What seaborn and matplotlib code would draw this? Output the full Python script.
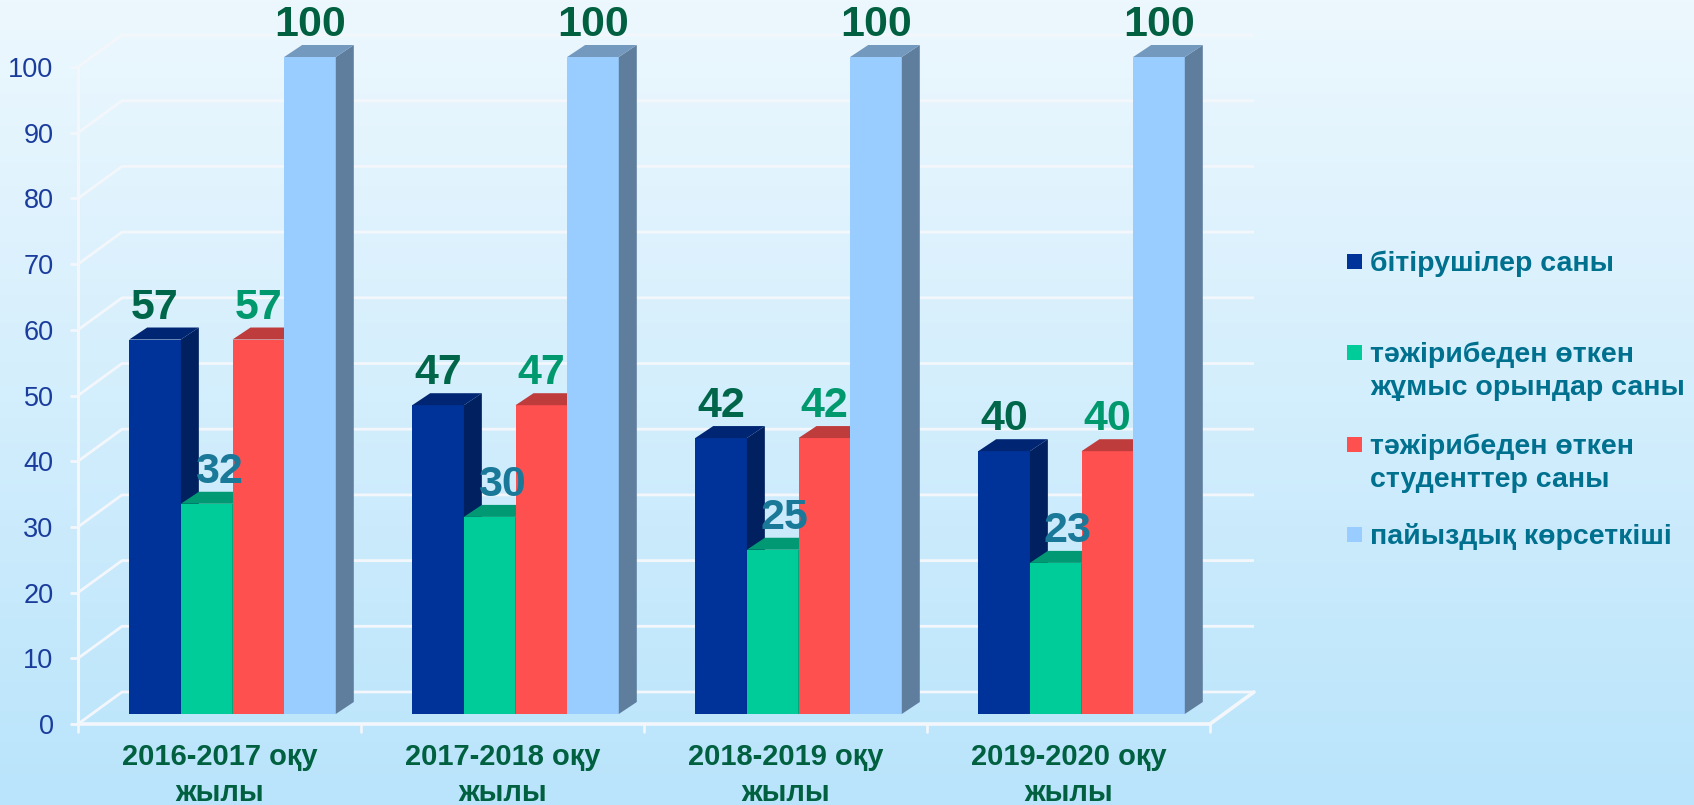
import numpy as np
import pandas as pd
import matplotlib
matplotlib.use("Agg")
import matplotlib.pyplot as plt
import matplotlib.colors as mcolors
from matplotlib.patches import Polygon, Rectangle
from matplotlib.transforms import offset_copy
import seaborn as sns

# ---- data --------------------------------------------------------------------
years = ["2016-2017 оқу\nжылы", "2017-2018 оқу\nжылы",
         "2018-2019 оқу\nжылы", "2019-2020 оқу\nжылы"]
series = ["бітірушілер саны",
          "тәжірибеден өткен\nжұмыс орындар саны",
          "тәжірибеден өткен\nстуденттер саны",
          "пайыздық көрсеткіші"]
graduates = [57, 47, 42, 40]
work_places = [32, 30, 25, 23]
students = [57, 47, 42, 40]
percent = [100, 100, 100, 100]

colors = ["#003399", "#00CC99", "#FF5050", "#99CCFF"]
label_colors = ["#00664A", "#1A7898", "#00996E", "#006040"]
label_dx = [0, 12, 0, 0]          # px shift of the value labels
TEXT_GREEN = "#006040"
LEGEND_TEXT = "#00708F"
TICK_BLUE = "#1A3C9C"
GRID = "#F3F7FB"

df = pd.DataFrame({
    "year": np.repeat(years, 4),
    "series": series * 4,
    "value": [v for row in zip(graduates, work_places, students, percent) for v in row],
})

# ---- figure ------------------------------------------------------------------
W, H, DPI = 1694, 805, 100
sns.set_theme(style="white")
plt.rcParams["font.family"] = ["Liberation Sans", "DejaVu Sans"]

fig = plt.figure(figsize=(W / DPI, H / DPI), dpi=DPI)

# vertical background gradient
bg = fig.add_axes([0, 0, 1, 1], zorder=-10)
grad = np.linspace(0, 1, 256).reshape(-1, 1)
bg.imshow(grad, aspect="auto", extent=[0, 1, 0, 1],
          cmap=mcolors.LinearSegmentedColormap.from_list("bg", ["#EDF8FE", "#B9E4FB"]))
bg.axis("off")

# axes = front plane of the bars (pixels of the reference)
x0, x1, y_bot, y_top = 91, 1223, 714, 57
ax = fig.add_axes([x0 / W, (H - y_bot) / H, (x1 - x0) / W, (y_bot - y_top) / H])
ax.set_facecolor("none")

sns.barplot(data=df, x="year", y="value", hue="series", order=years,
            hue_order=series, palette=colors, saturation=1, width=0.73,
            linewidth=0, legend=False, ax=ax)
ax.set_xlim(-0.5, 3.5)
ax.set_ylim(0, 100)
for s in ax.spines.values():
    s.set_visible(False)
ax.set_xlabel("")
ax.set_ylabel("")

FRONT = (-13, -10)   # axis / floor front edge, px
BACK = (31, 22)      # back wall, px
DEPTH = (18, 12)     # bar depth, px


def shift(x, y, d):
    px, py = ax.transData.transform((x, y))
    return ax.transData.inverted().transform((px + d[0], py + d[1]))


# back wall gridlines with diagonal on the side wall
gl = dict(color=GRID, lw=2.0, zorder=1, solid_capstyle="butt")
for v in range(0, 101, 10):
    a = shift(-0.5, v, FRONT)
    b = shift(-0.5, v, BACK)
    c = shift(3.5, v, BACK)
    ax.plot([a[0], b[0], c[0]], [a[1], b[1], c[1]], clip_on=False, **gl)
    t = shift(-0.5, v, (FRONT[0] - 8, FRONT[1]))
    ax.plot([t[0], a[0]], [t[1], a[1]], clip_on=False, **gl)

# front axis lines and floor edge
p = [shift(-0.5, 0, FRONT), shift(3.5, 0, FRONT), shift(3.5, 0, BACK)]
ax.plot([q[0] for q in p], [q[1] for q in p], color=GRID, lw=2.6, zorder=1.5, clip_on=False)
p = [shift(-0.5, 0, FRONT), shift(-0.5, 100, FRONT)]
ax.plot([q[0] for q in p], [q[1] for q in p], color=GRID, lw=2.2, zorder=1.5, clip_on=False)
for k in range(5):
    a = shift(k - 0.5, 0, FRONT)
    b = shift(k - 0.5, 0, (FRONT[0], FRONT[1] - 8))
    ax.plot([a[0], b[0]], [a[1], b[1]], color=GRID, lw=1.9, zorder=1.5, clip_on=False)

# 3D faces for each bar, drawn left to right
hexes = [mcolors.to_hex(c) for c in colors]
bars = sorted(ax.patches, key=lambda r: r.get_x())
for k, bar in enumerate(bars):
    idx = hexes.index(mcolors.to_hex(bar.get_facecolor()))
    rgb = np.array(mcolors.to_rgb(colors[idx]))
    bx0, bw, top = bar.get_x(), bar.get_width(), bar.get_height()
    bx1 = bx0 + bw
    z = 3 + 3 * k
    bar.set_zorder(z)
    side = [(bx1, 0), tuple(shift(bx1, 0, DEPTH)), tuple(shift(bx1, top, DEPTH)), (bx1, top)]
    roof = [(bx0, top), (bx1, top), tuple(shift(bx1, top, DEPTH)), tuple(shift(bx0, top, DEPTH))]
    ax.add_patch(Polygon(side, closed=True, facecolor=rgb * 0.62, lw=0, zorder=z + 1, clip_on=False))
    ax.add_patch(Polygon(roof, closed=True, facecolor=rgb * 0.75, lw=0, zorder=z + 2, clip_on=False))
    tr = offset_copy(ax.transData, fig=fig, x=label_dx[idx], y=21, units="dots")
    ax.text(bx0 + bw / 2, top, f"{top:g}", transform=tr, ha="center", va="baseline",
            fontsize=31, fontweight="bold", color=label_colors[idx], zorder=200, clip_on=False)

# tick labels, shifted to the front plane
ax.set_yticks(range(0, 101, 10))
ax.set_xticks(range(4))
ax.set_xticklabels(years)
ax.tick_params(axis="y", length=0, pad=27, labelsize=19.5, labelcolor=TICK_BLUE)
ax.tick_params(axis="x", length=0, pad=21, labelsize=21, labelcolor=TEXT_GREEN)
for lab in ax.get_yticklabels():
    lab.set_transform(offset_copy(lab.get_transform(), fig=fig, x=0, y=FRONT[1], units="dots"))
for lab in ax.get_xticklabels():
    lab.set_fontweight("bold")
    lab.set_linespacing(1.35)
    lab.set_transform(offset_copy(lab.get_transform(), fig=fig, x=FRONT[0], y=0, units="dots"))

# legend, marker aligned to the first line of each entry
first_line = [262, 353, 445, 534]
for name, c, yl in zip(series, colors, first_line):
    fig.patches.append(Rectangle((1347 / W, (H - yl - 7.5) / H), 15 / W, 15 / H,
                                 transform=fig.transFigure, facecolor=c, lw=0))
    fig.text(1370 / W, (H - yl) / H, name, ha="left", va="top",
             fontsize=20.5, fontweight="bold", color=LEGEND_TEXT, linespacing=1.32,
             transform=offset_copy(fig.transFigure, fig=fig, x=0, y=11, units="dots"))

fig.savefig("out.png", dpi=DPI)
